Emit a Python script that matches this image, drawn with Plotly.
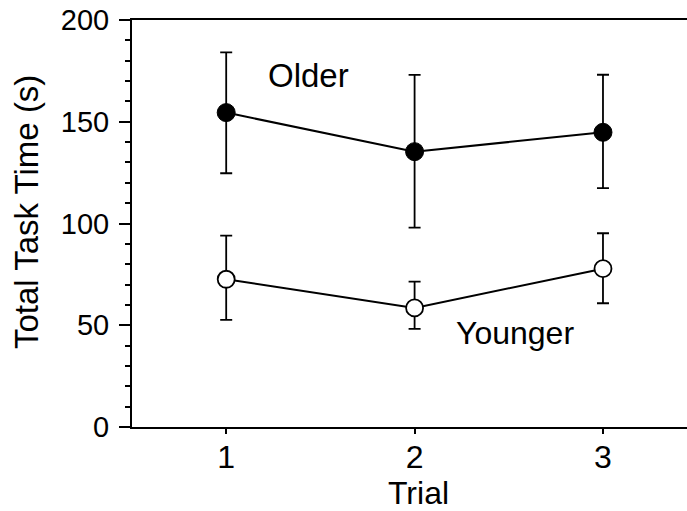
import plotly.graph_objects as go

trials = [1, 2, 3]
older = [154.5, 135.3, 144.8]
older_plus = [29.6, 37.7, 28.3]
older_minus = [29.8, 37.3, 27.4]
younger = [72.6, 58.5, 77.8]
younger_plus = [21.4, 12.9, 17.4]
younger_minus = [20.0, 10.3, 17.0]
y_ticks = [0, 50, 100, 150, 200]
x_ticks = [1, 2, 3]

FONT = "Liberation Sans, Arial, Helvetica, sans-serif"

fig = go.Figure()
fig.add_trace(go.Scatter(
    x=trials, y=older, mode="lines+markers",
    line=dict(color="black", width=2),
    marker=dict(symbol="circle", size=18, color="black", line=dict(color="black", width=1)),
    error_y=dict(type="data", symmetric=False, array=older_plus, arrayminus=older_minus,
                 color="black", thickness=1.8, width=6),
    showlegend=False,
))
fig.add_trace(go.Scatter(
    x=trials, y=younger, mode="lines+markers",
    line=dict(color="black", width=2),
    marker=dict(symbol="circle", size=17, color="white", line=dict(color="black", width=1.8)),
    error_y=dict(type="data", symmetric=False, array=younger_plus, arrayminus=younger_minus,
                 color="black", thickness=1.8, width=6),
    showlegend=False,
))

fig.add_annotation(x=1.435, y=172.5, xref="x", yref="y", text="Older", showarrow=False,
                   font=dict(family=FONT, size=33, color="black"))
fig.add_annotation(x=2.533, y=46, xref="x", yref="y", text="Younger", showarrow=False,
                   font=dict(family=FONT, size=32, color="black"))
fig.add_annotation(x=2.02, y=0, xref="x", yref="paper", yshift=-66, text="Trial", showarrow=False,
                   xanchor="center", yanchor="middle", font=dict(family=FONT, size=32, color="black"))
fig.add_annotation(x=-0.191, y=0.528, xref="paper", yref="paper", text="Total Task Time (s)",
                   showarrow=False, textangle=-90, xanchor="center", yanchor="middle",
                   font=dict(family=FONT, size=33, color="black"))

fig.update_layout(
    width=687, height=511,
    margin=dict(l=132, r=0, t=20, b=84),
    paper_bgcolor="white", plot_bgcolor="white",
    font=dict(family=FONT, color="black"),
    xaxis=dict(
        range=[0.5, 3.446], tickvals=x_ticks, ticktext=[str(t) for t in x_ticks],
        ticks="outside", ticklen=5, tickwidth=2, tickcolor="black",
        ticklabelstandoff=-4,
        showline=True, linecolor="black", linewidth=2, mirror=True,
        showgrid=False, zeroline=False,
        tickfont=dict(family=FONT, size=32, color="black"),
    ),
    yaxis=dict(
        range=[0, 200], tickvals=y_ticks,
        ticks="outside", ticklen=11, tickwidth=2, tickcolor="black",
        ticklabelstandoff=4,
        minor=dict(dtick=10, ticks="outside", ticklen=5, tickwidth=2, tickcolor="black", showgrid=False),
        showline=True, linecolor="black", linewidth=2, mirror=False,
        showgrid=False, zeroline=False,
        tickfont=dict(family=FONT, size=29, color="black"),
    ),
)

fig.write_html("out.html")
